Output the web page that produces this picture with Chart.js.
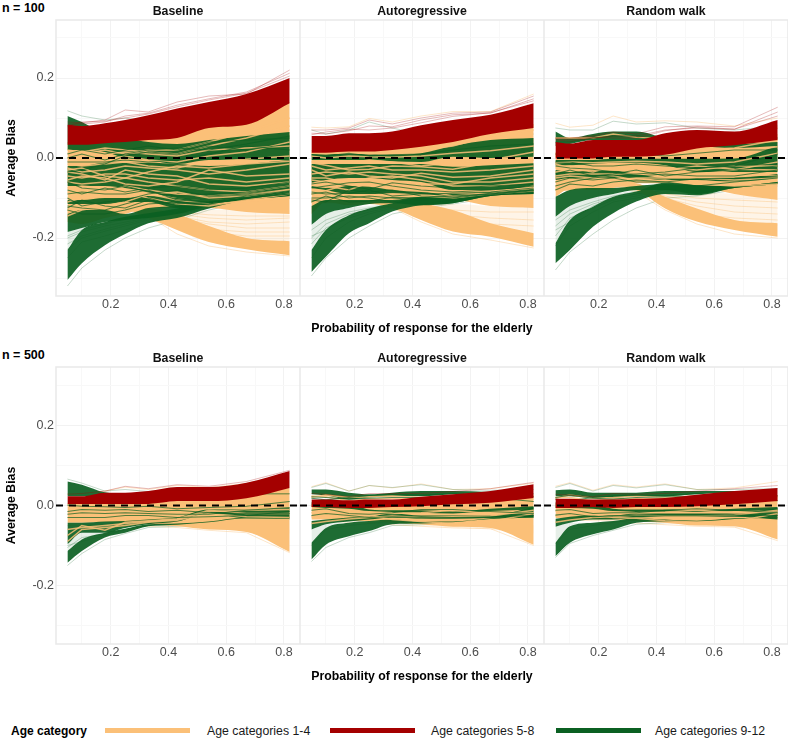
<!DOCTYPE html>
<html>
<head>
<meta charset="utf-8">
<script src="https://cdn.jsdelivr.net/npm/chart.js@4"></script>
<style>
  html, body { margin: 0; padding: 0; background: #fff; width: 792px; height: 741px; overflow: hidden; }
  body { font-family: "Liberation Sans", Arial, sans-serif; position: relative; }
  canvas { position: absolute; filter: blur(0.3px); }
  .lab { position: absolute; white-space: nowrap; font-size: 12.3px; color: #1a1a1a; line-height: 14px; }
  .bold { font-weight: bold; font-size: 12px; color: #000; }
  .swatch { position: absolute; height: 5px; width: 85px; top: 728px; }
</style>
</head>
<body>
<div class="lab bold" style="left:2px;top:1px;font-size:12.5px">n = 100</div>
<div class="lab bold" style="left:2px;top:348px;font-size:12.5px">n = 500</div>
<div class="lab bold" style="left:11px;top:724px">Age category</div>
<div class="swatch" style="left:105px;background:#fbc078"></div>
<div class="lab" style="left:207px;top:724px">Age categories 1-4</div>
<div class="swatch" style="left:330px;background:#a40000"></div>
<div class="lab" style="left:431px;top:724px">Age categories 5-8</div>
<div class="swatch" style="left:556px;background:#0b6022"></div>
<div class="lab" style="left:655px;top:724px">Age categories 9-12</div>

<script>
// x positions of every curve, probability of response for the elderly
const probability = [0.05, 0.1, 0.18, 0.25, 0.33, 0.43, 0.54, 0.67, 0.82];
const xTicks = [0.1, 0.2, 0.3, 0.4, 0.5, 0.6, 0.7, 0.8];
const xLabels = [0.2, 0.4, 0.6, 0.8];
const yTicks = [-0.3, -0.2, -0.1, 0, 0.1, 0.2, 0.3];
const yLabels = [-0.2, 0, 0.2];
const zeroLine = [0, 0];
const modelNames = ["Baseline", "Autoregressive", "Random walk"];

// bands come in pairs: upper edge, lower edge
// n = 100, baseline
const base100Orange = [
  [.04, .04, .045, .05, .055, .06, .085, .095, .14], [-.16, -.165, -.15, -.14, -.125, -.125, -.125, -.135, -.14],
  [-.13, -.13, -.13, -.12, -.125, -.14, -.17, -.2, -.208], [-.14, -.14, -.14, -.13, -.15, -.18, -.21, -.228, -.243],
];
const base100OrangePale = [[-.12, -.12, -.12, -.12, -.125, -.13, -.13, -.125, -.13], [-.13, -.13, -.13, -.13, -.14, -.18, -.21, -.22, -.22]];
const base100Green = [
  [.105, .09, .06, .05, .04, .035, .045, .055, .065], [.02, .02, .015, 0, -.005, -.015, -.005, -.005, -.005],
  [-.02, -.02, -.012, -.012, -.012, -.015, -.02, -.015, -.005], [-.07, -.07, -.07, -.075, -.085, -.1, -.105, -.1, -.085],
  [-.105, -.105, -.1, -.1, -.095, -.1, -.105, -.1, -.085], [-.115, -.115, -.115, -.11, -.11, -.125, -.12, -.105, -.09],
  [-.14, -.13, -.13, -.14, -.125, -.12, -.11, -.1, -.09], [-.185, -.175, -.16, -.155, -.15, -.14, -.12, -.105, -.095],
  [-.23, -.18, -.16, -.147, -.138, -.126, -.11, -.1, -.09], [-.305, -.263, -.218, -.19, -.163, -.15, -.126, -.105, -.095],
];
const base100GreenPale = [[-.185, -.175, -.16, -.15, -.14, -.13, -.11, -.1, -.09], [-.23, -.18, -.165, -.15, -.14, -.13, -.11, -.1, -.09]];
const base100Red = [[.083, .08, .087, .095, .107, .124, .14, .16, .2], [.033, .033, .037, .04, .045, .05, .075, .083, .137]];
const base100OrangeLines = [
  [-.025, -.035, -.03, -.02, -.025, -.03, -.04, -.03, -.015],
  [-.045, -.05, -.04, -.04, -.05, -.055, -.05, -.06, -.05],
  [-.06, -.065, -.06, -.05, -.06, -.07, -.08, -.085, -.07],
  [.012, .005, .01, .015, .01, .005, .02, .025, .03],
  [-.008, 0, -.005, .005, -.005, -.01, .005, .015, .04],
  [-.085, -.09, -.085, -.07, -.08, -.09, -.095, -.09, -.078],
  [-.035, -.04, -.055, -.03, -.04, -.045, -.065, -.07, -.06],
  [.02, .015, .025, .02, .015, .01, .03, .05, .08],
  [0, .01, .02, .01, .02, .02, .04, .065, .1],
  [-.015, -.02, -.015, -.01, -.02, -.025, -.008, -.003, .005],
  [-.03, -.025, -.045, -.05, -.035, -.02, -.025, -.015, -.008],
  [-.055, -.045, -.05, -.065, -.07, -.06, -.03, -.045, -.04],
  [-.075, -.07, -.075, -.08, -.09, -.085, -.1, -.095, -.08],
  [-.11, -.1, -.095, -.085, -.1, -.115, -.12, -.105, -.09],
  [-.145, -.13, -.12, -.11, -.09, -.105, -.115, -.108, -.1],
];
const base100GreenLines = [
  [-.12, -.125, -.13, -.115, -.1, -.12, -.115, -.1, -.09],
  [-.09, -.085, -.09, -.09, -.08, -.105, -.11, -.1, -.085],
  [-.13, -.14, -.14, -.13, -.115, -.11, -.115, -.1, -.09],
  [.01, .02, .01, .02, .03, .02, .04, .045, .05],
  [-.01, -.01, -.01, -.005, -.01, -.005, .01, .03, .02],
  [-.06, -.075, -.08, -.07, -.085, -.095, -.09, -.085, -.07],
  [-.08, -.09, -.075, -.085, -.075, -.07, -.08, -.075, -.06],
  [-.1, -.12, -.11, -.105, -.09, -.08, -.095, -.09, -.075],
  [-.125, -.105, -.12, -.125, -.105, -.115, -.11, -.095, -.082],
  [-.035, -.03, -.015, .005, .015, .01, .03, .02, .035],
  [0, .01, -.005, .01, .02, .025, .02, .035, .055],
];
const base100GreenEdges = [
  [.118, .105, .095, .1, .09, .08, .07, .065, .07],
  [-.32, -.275, -.23, -.2, -.175, -.155, -.13, -.11, -.1],
  [-.2, -.185, -.17, -.16, -.15, -.14, -.12, -.105, -.1],
  [-.25, -.21, -.195, -.18, -.16, -.14, -.125, -.105, -.095],
  [-.215, -.195, -.178, -.165, -.152, -.142, -.122, -.106, -.096],
  [-.195, -.18, -.165, -.152, -.145, -.135, -.118, -.104, -.095],
  [-.228, -.2, -.183, -.17, -.155, -.138, -.12, -.105, -.094],
];
const base100RedEdges = [
  [.09, .088, .095, .12, .115, .14, .155, .16, .22],
  [.085, .085, .09, .105, .112, .132, .148, .165, .212],
  [.08, .09, .092, .1, .11, .128, .145, .162, .205],
];
const base100OrangeEdges = [
  [-.14, -.15, -.13, -.13, -.145, -.19, -.22, -.235, -.245],
  [-.13, -.13, -.13, -.125, -.13, -.15, -.165, -.175, -.175],
  [-.13, -.13, -.13, -.125, -.13, -.14, -.15, -.155, -.15],
  [-.13, -.13, -.13, -.125, -.13, -.16, -.185, -.195, -.195],
  [-.13, -.13, -.13, -.125, -.132, -.145, -.16, -.165, -.16],
  [-.13, -.13, -.13, -.125, -.135, -.155, -.178, -.185, -.185],
  [-.13, -.13, -.13, -.125, -.13, -.135, -.142, -.145, -.145],
];

// n = 100, autoregressive
const ar100Orange = [
  [.02, .02, .02, .02, .025, .035, .05, .07, .085], [-.14, -.11, -.118, -.115, -.12, -.115, -.105, -.12, -.125],
  [-.1, -.1, -.1, -.1, -.105, -.113, -.13, -.163, -.188], [-.11, -.11, -.11, -.11, -.125, -.155, -.184, -.197, -.222],
];
const ar100OrangePale = [[-.11, -.11, -.11, -.11, -.115, -.115, -.115, -.12, -.125], [-.115, -.115, -.115, -.115, -.12, -.135, -.17, -.19, -.205]];
const ar100Green = [
  [.01, .01, .01, .01, .008, .012, .03, .045, .05], [-.005, -.005, -.005, -.005, -.008, -.01, .003, 0, .003],
  [-.015, -.015, -.015, -.015, -.015, -.015, -.022, -.018, -.013], [-.062, -.055, -.05, -.05, -.055, -.06, -.08, -.08, -.072],
  [-.07, -.075, -.07, -.072, -.08, -.085, -.09, -.085, -.08], [-.075, -.08, -.09, -.09, -.088, -.09, -.095, -.09, -.085],
  [-.12, -.105, -.105, -.105, -.105, -.097, -.1, -.09, -.085], [-.167, -.14, -.125, -.115, -.113, -.118, -.113, -.095, -.09],
  [-.23, -.18, -.143, -.126, -.113, -.1, -.1, -.09, -.085], [-.285, -.247, -.188, -.163, -.134, -.118, -.113, -.095, -.09],
];
const ar100GreenPale = [[-.167, -.14, -.125, -.12, -.113, -.1, -.1, -.09, -.085], [-.23, -.18, -.143, -.126, -.113, -.1, -.1, -.09, -.085]];
const ar100Red = [[.055, .055, .062, .062, .066, .082, .095, .108, .137], [.013, .013, .016, .016, .02, .028, .04, .06, .075]];
const ar100OrangeLines = [
  [-.02, -.03, -.025, -.02, -.03, -.03, -.035, -.03, -.02],
  [-.04, -.035, -.04, -.035, -.04, -.045, -.06, -.06, -.05],
  [-.055, -.06, -.055, -.06, -.06, -.07, -.085, -.09, -.07],
  [.005, 0, .005, .003, .002, .005, .012, .018, .03],
  [-.008, -.01, -.012, -.005, -.01, -.02, -.012, -.005, .015],
  [-.08, -.082, -.065, -.068, -.072, -.08, -.095, -.088, -.076],
  [-.012, -.018, -.03, -.028, -.02, -.022, -.028, -.012, -.005],
  [-.03, -.045, -.035, -.045, -.05, -.038, -.048, -.045, -.03],
  [-.05, -.05, -.062, -.05, -.045, -.055, -.07, -.07, -.06],
  [-.068, -.07, -.08, -.062, -.07, -.065, -.065, -.05, -.04],
  [-.09, -.095, -.1, -.095, -.09, -.095, -.1, -.09, -.082],
  [.012, .01, .015, .01, .012, .02, .03, .055, .07],
];
const ar100GreenLines = [
  [-.09, -.085, -.1, -.095, -.1, -.105, -.1, -.09, -.08],
  [-.105, -.11, -.08, -.085, -.08, -.095, -.098, -.088, -.078],
  [.008, .005, .012, .005, .008, .01, .02, .03, .035],
  [-.075, -.07, -.062, -.06, -.07, -.08, -.085, -.08, -.07],
  [-.085, -.09, -.088, -.08, -.095, -.09, -.088, -.085, -.075],
  [-.065, -.06, -.07, -.078, -.062, -.07, -.075, -.07, -.065],
  [-.1, -.1, -.095, -.1, -.11, -.1, -.095, -.09, -.08],
  [-.11, -.095, -.11, -.108, -.098, -.1, -.105, -.092, -.082],
];
const ar100GreenEdges = [
  [.07, .06, .07, .09, .075, .06, .055, .06, .06],
  [-.295, -.25, -.2, -.17, -.14, -.125, -.115, -.1, -.09],
  [-.2, -.165, -.14, -.13, -.12, -.115, -.105, -.09, -.085],
  [-.25, -.2, -.16, -.14, -.125, -.115, -.105, -.09, -.085],
  [-.18, -.155, -.135, -.125, -.118, -.11, -.105, -.09, -.085],
  [-.215, -.175, -.15, -.135, -.122, -.112, -.105, -.09, -.085],
  [-.195, -.18, -.145, -.128, -.12, -.112, -.105, -.09, -.085],
];
const ar100RedEdges = [
  [.07, .07, .075, .095, .085, .1, .112, .115, .155],
  [.062, .06, .068, .08, .078, .095, .108, .112, .148],
  [.058, .065, .072, .07, .075, .088, .104, .113, .143],
];
const ar100OrangeEdges = [
  [.077, .075, .078, .099, .09, .105, .116, .116, .16],
  [-.11, -.11, -.11, -.11, -.125, -.16, -.19, -.205, -.225],
  [-.11, -.11, -.11, -.11, -.118, -.128, -.13, -.135, -.135],
  [-.11, -.11, -.11, -.11, -.118, -.14, -.15, -.165, -.17],
  [-.11, -.11, -.11, -.11, -.118, -.132, -.142, -.15, -.155],
  [-.11, -.11, -.11, -.11, -.118, -.148, -.165, -.18, -.19],
];

// n = 100, random walk
const rw100Orange = [
  [.015, .01, .01, .01, .015, .02, .035, .045, .06], [-.097, -.076, -.08, -.075, -.063, -.063, -.07, -.09, -.105],
  [-.07, -.07, -.06, -.06, -.063, -.097, -.126, -.155, -.163], [-.08, -.08, -.07, -.07, -.08, -.126, -.159, -.18, -.197],
];
const rw100OrangePale = [[-.075, -.075, -.07, -.07, -.07, -.075, -.085, -.09, -.105], [-.08, -.08, -.075, -.075, -.085, -.11, -.13, -.16, -.17]];
const rw100Green = [
  [.066, .05, .06, .066, .066, .05, .04, .035, .04], [.03, .035, .045, .045, .045, .035, .03, .025, .03],
  [-.005, -.005, -.005, -.002, -.002, -.002, -.002, -.001, .03], [-.018, -.018, -.015, -.012, -.012, -.018, -.035, -.035, -.035],
  [-.03, -.035, -.032, -.032, -.04, -.05, -.05, -.05, -.04], [-.055, -.05, -.05, -.05, -.05, -.055, -.055, -.06, -.05],
  [-.097, -.08, -.075, -.075, -.07, -.065, -.068, -.07, -.06], [-.147, -.12, -.1, -.09, -.08, -.08, -.09, -.075, -.065],
  [-.213, -.155, -.122, -.097, -.084, -.062, -.068, -.07, -.06], [-.263, -.23, -.172, -.138, -.109, -.09, -.093, -.075, -.065],
];
const rw100GreenPale = [[-.147, -.12, -.1, -.09, -.08, -.06, -.06, -.06, -.06], [-.213, -.155, -.122, -.097, -.084, -.062, -.062, -.062, -.062]];
const rw100Red = [[.04, .036, .045, .045, .045, .062, .07, .066, .095], [-.001, -.001, -.001, .003, .003, .008, .024, .032, .045]];
const rw100OrangeLines = [
  [-.025, -.02, -.03, -.025, -.02, -.025, -.03, -.02, -.02],
  [-.045, -.04, -.04, -.04, -.04, -.04, -.045, -.04, -.045],
  [.005, .002, .005, .002, .002, .005, .01, .015, .028],
  [-.06, -.055, -.06, -.055, -.05, -.05, -.05, -.055, -.05],
  [-.012, -.01, -.012, -.01, -.008, -.01, -.015, -.01, .012],
  [.05, .05, .05, .06, .052, .05, .048, .045, .075],
  [-.035, -.03, -.02, -.03, -.032, -.03, -.02, -.028, -.03],
  [-.015, -.025, -.035, -.02, -.015, -.02, -.04, -.03, -.01],
  [-.05, -.045, -.05, -.045, -.055, -.06, -.06, -.06, -.055],
  [-.07, -.065, -.07, -.065, -.06, -.055, -.065, -.07, -.065],
  [.01, .012, .003, .008, .012, .012, .018, .025, .045],
];
const rw100GreenLines = [
  [-.08, -.065, -.07, -.06, -.055, -.06, -.07, -.06, -.05],
  [-.07, -.06, -.05, -.045, -.04, -.035, -.025, -.02, .01],
  [.04, .04, .05, .055, .055, .05, .045, .04, .05],
  [.01, .005, .012, .01, .01, .005, .012, .02, .02],
  [-.01, -.01, -.02, -.02, -.015, -.02, -.025, -.02, -.015],
  [-.04, -.03, -.045, -.04, -.03, -.045, -.035, -.03, -.02],
  [-.02, -.025, -.028, -.035, -.045, -.04, -.045, -.045, -.03],
  [-.06, -.05, -.055, -.05, -.06, -.06, -.052, -.05, -.045],
];
const rw100GreenEdges = [
  [.075, .07, .07, .092, .085, .088, .075, .07, .08],
  [-.28, -.235, -.19, -.155, -.125, -.1, -.095, -.08, -.07],
  [-.17, -.14, -.115, -.1, -.09, -.08, -.08, -.07, -.06],
  [-.22, -.17, -.135, -.11, -.1, -.085, -.08, -.07, -.06],
  [-.155, -.13, -.11, -.095, -.085, -.075, -.075, -.07, -.06],
  [-.195, -.15, -.125, -.105, -.095, -.08, -.078, -.07, -.06],
  [-.18, -.16, -.12, -.102, -.09, -.078, -.076, -.07, -.06],
];
const rw100RedEdges = [
  [.05, .05, .055, .065, .06, .078, .08, .078, .127],
  [.045, .042, .05, .055, .055, .07, .075, .072, .105],
  [.048, .046, .052, .05, .05, .068, .078, .072, .115],
];
const rw100OrangeEdges = [
  [.087, .077, .082, .105, .09, .093, .09, .08, .1],
  [-.08, -.08, -.07, -.07, -.085, -.13, -.165, -.19, -.2],
  [-.08, -.08, -.07, -.07, -.075, -.09, -.1, -.105, -.11],
  [-.08, -.08, -.07, -.07, -.075, -.1, -.12, -.135, -.14],
  [-.08, -.08, -.07, -.07, -.075, -.095, -.11, -.12, -.125],
  [-.08, -.08, -.07, -.07, -.08, -.11, -.14, -.15, -.155],
];

// n = 500, baseline
const base500Orange = [
  [.006, .006, .006, .006, .008, .012, .02, .03, .044], [-.043, -.043, -.041, -.043, -.047, -.052, -.06, -.066, -.116],
];
const base500OrangePale = [[-.04, -.04, -.04, -.04, -.04, -.045, -.05, -.055, -.06], [-.042, -.042, -.042, -.042, -.045, -.05, -.055, -.06, -.07]];
const base500Green = [
  [.06, .052, .033, .03, .03, .03, .028, .03, .03], [.023, .023, .023, .022, .024, .028, .026, .028, .028],
  [-.043, -.043, -.04, -.039, -.035, -.03, -.01, -.01, -.006], [-.097, -.068, -.068, -.056, -.047, -.04, -.02, -.032, -.033],
  [-.114, -.085, -.068, -.058, -.047, -.045, -.04, -.03, -.03], [-.143, -.114, -.08, -.068, -.052, -.048, -.042, -.032, -.032],
];
const base500GreenPale = [[-.097, -.068, -.068, -.058, -.047, -.045, -.04, -.03, -.03], [-.114, -.085, -.07, -.058, -.047, -.045, -.04, -.03, -.03]];
const base500Red = [[.023, .023, .032, .032, .036, .046, .046, .057, .086], [.004, .004, .004, .004, .004, .011, .011, .018, .044]];
const base500OrangeLines = [
  [-.06, -.055, -.05, -.045, -.04, -.035, -.015, -.012, -.01],
  [-.09, -.06, -.055, -.05, -.042, -.037, -.02, -.028, -.03],
  [-.075, -.05, -.062, -.042, -.038, -.033, -.012, -.02, -.02],
];
const base500GreenLines = [
  [-.015, -.01, -.012, -.01, -.015, -.012, -.018, -.02, -.02],
  [-.03, -.03, -.03, -.025, -.025, -.03, -.028, -.025, -.015],
  [.001, -.002, -.003, -.005, -.002, -.008, -.005, -.002, .01],
  [-.022, -.018, -.02, -.018, -.02, -.022, -.022, -.012, -.005],
];
const base500GreenEdges = [
  [.066, .056, .036, .04, .035, .04, .03, .03, .03],
  [-.15, -.12, -.085, -.07, -.055, -.052, -.045, -.035, -.035],
  [-.1, -.09, -.075, -.06, -.05, -.05, -.045, -.035, -.03],
  [-.105, -.08, -.072, -.06, -.05, -.048, -.042, -.035, -.03],
];
const base500RedEdges = [
  [.028, .03, .036, .048, .042, .052, .048, .06, .088],
];
const base500OrangeEdges = [
  [.03, .03, .036, .046, .04, .05, .045, .055, .08],
  [-.05, -.05, -.048, -.05, -.052, -.055, -.062, -.068, -.118],
];

// n = 500, autoregressive
const ar500Orange = [
  [.004, .004, .004, .004, .004, .006, .008, .012, .02], [-.035, -.035, -.039, -.039, -.043, -.047, -.053, -.056, -.098],
];
const ar500OrangePale = [[-.03, -.03, -.03, -.03, -.03, -.03, -.03, -.03, -.05], [-.035, -.035, -.04, -.04, -.045, -.05, -.055, -.06, -.07]];
const ar500Green = [
  [.04, .04, .032, .028, .032, .036, .036, .034, .03], [.028, .025, .015, .02, .023, .023, .028, .03, .028],
  [-.039, -.035, -.03, -.028, -.02, -.025, -.025, -.025, -.004], [-.06, -.047, -.04, -.035, -.03, -.033, -.033, -.031, -.03],
  [-.093, -.056, -.043, -.039, -.035, -.04, -.04, -.032, -.025], [-.135, -.098, -.077, -.064, -.047, -.045, -.042, -.034, -.03],
  [.008, .006, .005, -.01, -.012, -.012, -.015, -.008, -.002], [-.004, -.006, -.008, -.014, -.016, -.018, -.02, -.014, -.01],
];
const ar500GreenPale = [[-.06, -.047, -.043, -.04, -.035, -.04, -.04, -.032, -.03], [-.093, -.056, -.044, -.04, -.035, -.04, -.04, -.032, -.03]];
const ar500Red = [[.015, .015, .013, .015, .015, .022, .028, .036, .053], [-.004, -.004, -.006, -.006, -.004, -.002, .003, .007, .019]];
const ar500OrangeLines = [
  [.024, .022, .012, .016, .018, .016, .018, .02, .016],
  [-.018, -.016, -.018, -.018, -.02, -.018, -.012, -.02, -.018],
  [-.028, -.03, -.025, -.024, -.035, -.04, -.045, -.04, -.02],
  [.02, .026, .02, .022, .024, .02, .024, .028, .024],
  [-.045, -.04, -.034, -.03, -.026, -.03, -.028, -.026, -.012],
];
const ar500GreenLines = [
  [-.012, -.008, -.02, -.022, -.018, -.01, -.01, -.015, -.02],
  [-.025, -.02, -.025, -.03, -.028, -.03, -.03, -.028, -.025],
  [.022, .02, .016, .018, .02, .02, .022, .024, .022],
  [.018, .014, .02, .025, .028, .026, .03, .02, .01],
];
const ar500GreenEdges = [
  [.045, .055, .036, .05, .045, .052, .04, .038, .04],
  [-.14, -.105, -.08, -.068, -.05, -.048, -.045, -.04, -.03],
  [-.1, -.06, -.05, -.045, -.04, -.04, -.04, -.035, -.03],
];
const ar500RedEdges = [
  [.03, .028, .022, .03, .03, .03, .035, .042, .058],
];
const ar500OrangeEdges = [
  [.047, .057, .036, .05, .044, .054, .04, .042, .056],
  [-.04, -.04, -.042, -.042, -.048, -.052, -.056, -.058, -.1],
];

// n = 500, random walk
const rw500Orange = [
  [.006, .006, .006, .006, .006, .006, .008, .012, .02], [-.031, -.031, -.035, -.035, -.039, -.043, -.05, -.052, -.085],
];
const rw500OrangePale = [[-.03, -.03, -.03, -.03, -.03, -.03, -.03, -.035, -.05], [-.032, -.032, -.035, -.035, -.04, -.045, -.05, -.055, -.065]];
const rw500Green = [
  [.038, .04, .032, .032, .032, .036, .036, .036, .03], [.023, .023, .019, .019, .023, .023, .028, .032, .03],
  [-.033, -.028, -.025, -.025, -.02, -.02, -.02, -.02, -.006], [-.053, -.043, -.035, -.035, -.03, -.028, -.028, -.028, -.035],
  [-.093, -.052, -.043, -.039, -.031, -.035, -.038, -.032, -.03], [-.127, -.093, -.072, -.06, -.043, -.04, -.04, -.034, -.03],
  [.008, .006, .003, -.008, -.01, -.01, -.012, -.008, -.004], [-.006, -.006, -.008, -.014, -.016, -.016, -.016, -.014, -.012],
];
const rw500GreenPale = [[-.053, -.043, -.043, -.039, -.031, -.035, -.035, -.032, -.03], [-.093, -.052, -.044, -.04, -.032, -.035, -.035, -.032, -.03]];
const rw500Red = [[.017, .017, .015, .015, .017, .019, .027, .036, .044], [-.006, -.006, -.004, -.006, -.004, -.004, -.002, .003, .011]];
const rw500OrangeLines = [
  [.02, .02, .012, .016, .018, .016, .018, .022, .02],
  [-.014, -.016, -.018, -.016, -.018, -.016, -.012, -.018, -.016],
  [-.026, -.024, -.022, -.03, -.032, -.038, -.042, -.04, -.02],
  [.019, .026, .018, .02, .024, .02, .024, .028, .024],
  [-.042, -.036, -.03, -.028, -.024, -.026, -.026, -.024, -.012],
];
const rw500GreenLines = [
  [-.012, -.01, -.02, -.018, -.018, -.012, -.008, -.012, -.018],
  [-.024, -.02, -.028, -.026, -.024, -.024, -.024, -.024, -.025],
  [.02, .026, .018, .016, .02, .022, .022, .024, .024],
  [.016, .012, .02, .024, .026, .024, .03, .02, .012],
];
const rw500GreenEdges = [
  [.045, .055, .036, .05, .044, .052, .04, .04, .042],
  [-.13, -.095, -.075, -.062, -.047, -.043, -.042, -.036, -.03],
  [-.095, -.06, -.05, -.042, -.036, -.036, -.036, -.034, -.03],
];
const rw500RedEdges = [
  [.028, .026, .022, .03, .028, .03, .036, .042, .05],
];
const rw500OrangeEdges = [
  [.048, .057, .038, .052, .046, .054, .04, .044, .06],
  [-.036, -.036, -.038, -.038, -.044, -.048, -.052, -.054, -.088],
];

const panels = [
  { top: 20, height: 276, yRange: 0.345, col: 0, orange: base100Orange, orangePale: base100OrangePale, green: base100Green, greenPale: base100GreenPale, red: base100Red, orangeLines: base100OrangeLines, greenLines: base100GreenLines, greenEdges: base100GreenEdges, redEdges: base100RedEdges, orangeEdges: base100OrangeEdges },
  { top: 20, height: 276, yRange: 0.345, col: 1, orange: ar100Orange, orangePale: ar100OrangePale, green: ar100Green, greenPale: ar100GreenPale, red: ar100Red, orangeLines: ar100OrangeLines, greenLines: ar100GreenLines, greenEdges: ar100GreenEdges, redEdges: ar100RedEdges, orangeEdges: ar100OrangeEdges },
  { top: 20, height: 276, yRange: 0.345, col: 2, orange: rw100Orange, orangePale: rw100OrangePale, green: rw100Green, greenPale: rw100GreenPale, red: rw100Red, orangeLines: rw100OrangeLines, greenLines: rw100GreenLines, greenEdges: rw100GreenEdges, redEdges: rw100RedEdges, orangeEdges: rw100OrangeEdges },
  { top: 367, height: 277, yRange: 0.34625, col: 0, orange: base500Orange, orangePale: base500OrangePale, green: base500Green, greenPale: base500GreenPale, red: base500Red, orangeLines: base500OrangeLines, greenLines: base500GreenLines, greenEdges: base500GreenEdges, redEdges: base500RedEdges, orangeEdges: base500OrangeEdges },
  { top: 367, height: 277, yRange: 0.34625, col: 1, orange: ar500Orange, orangePale: ar500OrangePale, green: ar500Green, greenPale: ar500GreenPale, red: ar500Red, orangeLines: ar500OrangeLines, greenLines: ar500GreenLines, greenEdges: ar500GreenEdges, redEdges: ar500RedEdges, orangeEdges: ar500OrangeEdges },
  { top: 367, height: 277, yRange: 0.34625, col: 2, orange: rw500Orange, orangePale: rw500OrangePale, green: rw500Green, greenPale: rw500GreenPale, red: rw500Red, orangeLines: rw500OrangeLines, greenLines: rw500GreenLines, greenEdges: rw500GreenEdges, redEdges: rw500RedEdges, orangeEdges: rw500OrangeEdges },
];

const ORANGE = "251,192,120";
const RED = "164,0,0";
const GREEN = "11,96,34";
const xMin = 0.0104, xMax = 0.8557;
const panelLeft = [56, 300, 544], panelWidth = 243;
const axisFont = { family: "'Liberation Sans', Arial, sans-serif", size: 12.5 };
const boldFont = { family: "'Liberation Sans', Arial, sans-serif", size: 12.3, weight: "bold" };

const pts = (ys) => ys.map((y, i) => ({ x: probability[i], y }));

function bandSets(rows, rgb, alpha) {
  const out = [];
  const edge = { borderColor: "transparent", borderWidth: 0, cubicInterpolationMode: "monotone" };
  for (let i = 0; i < rows.length; i += 2) {
    out.push({ ...edge, data: pts(rows[i]), fill: "+1", backgroundColor: `rgba(${rgb},${alpha})` });
    out.push({ ...edge, data: pts(rows[i + 1]), fill: false });
  }
  return out;
}

function lineSets(rows, rgb, alpha, width) {
  return rows.map((ys) => ({ data: pts(ys), fill: false, borderColor: `rgba(${rgb},${alpha})`, borderWidth: width }));
}

// thin grey frame round every panel
const frame = {
  id: "frame",
  beforeDatasetsDraw(chart) {
    const { ctx, chartArea: a } = chart;
    ctx.save();
    ctx.strokeStyle = "#e9e9e9";
    ctx.lineWidth = 1.5;
    ctx.strokeRect(a.left, a.top, a.right - a.left, a.bottom - a.top);
    ctx.restore();
  },
};

panels.forEach((p) => {
  const first = p.col === 0;
  const middle = p.col === 1;
  const axisLeft = first ? 56 : 0;
  const canvas = document.createElement("canvas");
  const w = panelWidth + axisLeft + 1;
  const h = 20 + p.height + 46;
  canvas.width = w;
  canvas.height = h;
  canvas.style.left = (panelLeft[p.col] - axisLeft) + "px";
  canvas.style.top = (p.top - 20) + "px";
  canvas.style.width = w + "px";
  canvas.style.height = h + "px";
  document.body.appendChild(canvas);

  const sets = [
    ...lineSets(p.orangeEdges, ORANGE, 0.5, 0.8),
    ...lineSets(p.greenEdges, GREEN, 0.3, 0.8),
    ...bandSets(p.orangePale, ORANGE, 0.18),
    ...bandSets(p.greenPale, GREEN, 0.1),
    ...bandSets(p.orange, ORANGE, 1),
    ...bandSets(p.green, GREEN, 0.92),
    ...lineSets(p.orangeLines, ORANGE, 0.85, 1.5),
    ...lineSets(p.greenLines, GREEN, 0.7, 1.1),
    ...lineSets(p.redEdges, RED, 0.35, 0.8),
    ...bandSets(p.red, RED, 1),
    { data: [{ x: xMin, y: zeroLine[0] }, { x: xMax, y: zeroLine[1] }], fill: false, borderColor: "#000", borderWidth: 2, borderDash: [7, 6] },
  ];
  // Chart.js paints index 0 last, so order keeps the list back to front
  sets.forEach((s, i) => { s.order = sets.length - i; });

  new Chart(canvas, {
    type: "line",
    data: { datasets: sets },
    plugins: [frame],
    options: {
      responsive: false,
      animation: false,
      events: [],
      layout: { padding: 0 },
      elements: { point: { radius: 0 }, line: { tension: 0 } },
      plugins: {
        legend: { display: false },
        tooltip: { enabled: false },
        title: { display: true, fullSize: false, text: modelNames[p.col], color: "#111", font: boldFont, padding: { top: 4, bottom: 1.24 } },
      },
      scales: {
        x: {
          type: "linear",
          min: xMin,
          max: xMax,
          afterBuildTicks: (s) => { s.ticks = xTicks.map((value) => ({ value })); },
          afterFit: (s) => { s.height = 46; },
          grid: { color: (c) => (xLabels.includes(c.tick.value) ? "#f2f2f2" : "#f8f8f8"), lineWidth: 1, drawTicks: false },
          border: { display: false },
          ticks: {
            autoSkip: false, maxRotation: 0, padding: 1, color: "#4d4d4d", font: axisFont,
            callback: (v) => (xLabels.includes(v) ? v.toFixed(1) : ""),
          },
          title: { display: middle, text: "Probability of response for the elderly", color: "#000", font: boldFont, padding: { top: 0, bottom: 6 } },
        },
        y: {
          min: -p.yRange,
          max: p.yRange,
          afterBuildTicks: (s) => { s.ticks = yTicks.map((value) => ({ value })); },
          afterFit: (s) => { s.width = axisLeft; },
          grid: { color: (c) => (yLabels.includes(c.tick.value) ? "#f2f2f2" : "#f8f8f8"), lineWidth: 1, drawTicks: false },
          border: { display: false },
          ticks: {
            display: first, autoSkip: false, padding: 2, color: "#4d4d4d", font: axisFont,
            callback: (v) => (yLabels.includes(v) ? v.toFixed(1) : ""),
          },
          title: { display: first, text: "Average Bias", color: "#000", font: boldFont, padding: { top: 4, bottom: 0 } },
        },
      },
    },
  });
});
</script>
</body>
</html>
